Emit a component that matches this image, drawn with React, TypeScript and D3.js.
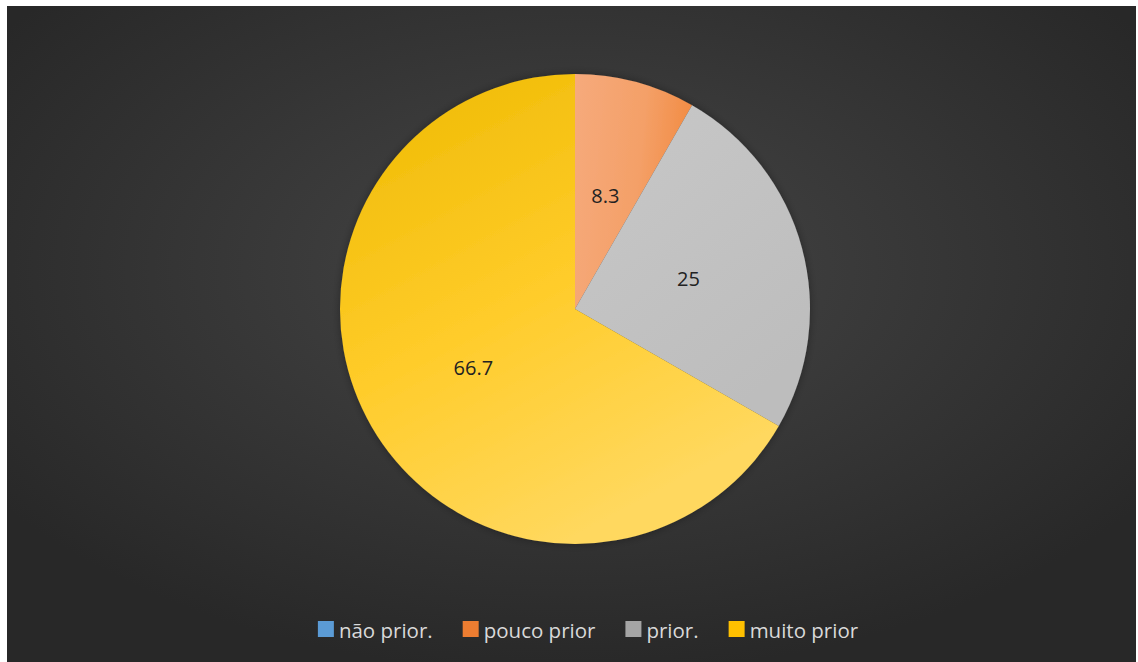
import React, { useEffect, useRef } from "react";
import * as d3 from "d3";

const categories = ["não prior.", "pouco prior", "prior.", "muito prior"];
const values = [0, 8.3, 25, 66.7];
const labelTexts = ["0", "8.3", "25", "66.7"];
const legendSwatch = ["#5B9BD5", "#ED7D31", "#A5A5A5", "#FFC000"];

const W = 1138;
const H = 662;

export default function App() {
  const ref = useRef<SVGSVGElement | null>(null);

  useEffect(() => {
    document.body.style.margin = "0";
    const svg = d3.select(ref.current);
    svg.selectAll("*").remove();

    const defs = svg.append("defs");
    const bg = defs.append("radialGradient").attr("id", "bg")
      .attr("cx", "50%").attr("cy", "40%").attr("r", "62%");
    bg.append("stop").attr("offset", "0%").attr("stop-color", "#464646");
    bg.append("stop").attr("offset", "100%").attr("stop-color", "#282828");

    const mk = (id: string, stops: [string, string][], x2 = "0.6", y2 = "1") => {
      const g = defs.append("linearGradient").attr("id", id)
        .attr("x1", "0").attr("y1", "0").attr("x2", x2).attr("y2", y2);
      stops.forEach(([o, c]) => g.append("stop").attr("offset", o).attr("stop-color", c));
    };
    mk("g0", [["0%", "#6FA8DC"], ["100%", "#5B9BD5"]]);
    mk("g1", [["0%", "#F6AA7C"], ["60%", "#F4A068"], ["100%", "#F28C44"]], "1", "0.2");
    mk("g2", [["0%", "#C8C8C8"], ["100%", "#BDBDBD"]]);
    mk("g3", [["0%", "#EDB900"], ["55%", "#FFCC2A"], ["100%", "#FFD85E"]], "0.5", "1");

    const sh = defs.append("filter").attr("id", "sh")
      .attr("x", "-10%").attr("y", "-10%").attr("width", "120%").attr("height", "120%");
    sh.append("feDropShadow").attr("dx", 0).attr("dy", 0).attr("stdDeviation", 4)
      .attr("flood-color", "#000").attr("flood-opacity", 0.35);

    svg.append("rect").attr("width", W).attr("height", H).attr("fill", "#ffffff");
    svg.append("rect").attr("x", 7).attr("y", 6).attr("width", 1129).attr("height", H - 6)
      .attr("fill", "url(#bg)");

    const cx = 575, cy = 309, R = 235;
    const pie = d3.pie<number>().sort(null).value((d) => d);
    const arcs = pie(values);
    const arc = d3.arc<d3.PieArcDatum<number>>().innerRadius(0).outerRadius(R);
    const labelArc = d3.arc<d3.PieArcDatum<number>>().innerRadius(0).outerRadius(R);

    const g = svg.append("g").attr("transform", `translate(${cx},${cy})`);
    const sg = g.append("g").attr("filter", "url(#sh)");
    sg.selectAll("path").data(arcs.filter((a) => a.value > 0)).join("path")
      .attr("d", (d) => arc(d) as string)
      .attr("fill", (d) => `url(#g${d.index})`);

    g.selectAll("text").data(arcs.filter((a) => a.value > 0)).join("text")
      .attr("transform", (d) => `translate(${labelArc.centroid(d)})`)
      .attr("text-anchor", "middle")
      .attr("dominant-baseline", "central")
      .attr("font-family", "'Open Sans', sans-serif")
      .attr("font-size", 20)
      .attr("fill", "#222222")
      .text((d) => labelTexts[d.index]);

    // legend
    const lg = svg.append("g");
    const ly = 630;
    const sq = 16, pad = 5, gap = 30;
    const items = lg.selectAll("g").data(categories).join("g");
    items.append("rect").attr("width", sq).attr("height", sq).attr("y", ly - sq / 2 - 1)
      .attr("fill", (_, i) => legendSwatch[i]);
    items.append("text").attr("x", sq + pad).attr("y", ly)
      .attr("dominant-baseline", "central")
      .attr("font-family", "'Open Sans', sans-serif")
      .attr("font-size", 20.5)
      .attr("fill", "#D9D9D9")
      .text((d) => d);
    const widths: number[] = [];
    items.each(function () {
      const t = d3.select(this).select("text").node() as SVGTextElement;
      widths.push(sq + pad + t.getComputedTextLength());
    });
    const total = d3.sum(widths) + gap * (widths.length - 1);
    let x = 588 - total / 2;
    items.attr("transform", (_, i) => {
      const tx = x;
      x += widths[i] + gap;
      return `translate(${tx},0)`;
    });
  }, []);

  return <svg ref={ref} width={W} height={H} style={{ display: "block" }} />;
}
